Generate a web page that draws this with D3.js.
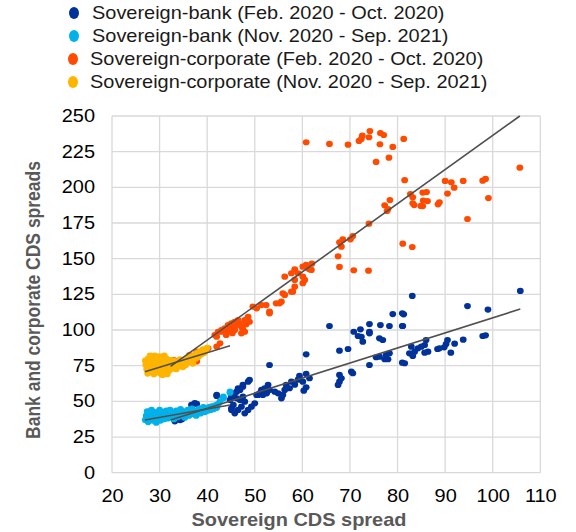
<!DOCTYPE html>
<html>
<head>
<meta charset="utf-8">
<script src="https://cdn.jsdelivr.net/npm/d3@7"></script>
<style>
  body { margin: 0; background: #fff; }
  text { font-family: "Liberation Sans", Arial, sans-serif; }
</style>
</head>
<body>
<svg id="chart" width="576" height="532"></svg>
<script>
// Legend labels and series colours
var seriesNames = [
  'Sovereign-bank (Feb. 2020 - Oct. 2020)',
  'Sovereign-bank (Nov. 2020 - Sep. 2021)',
  'Sovereign-corporate (Feb. 2020 - Oct. 2020)',
  'Sovereign-corporate (Nov. 2020 - Sep. 2021)'
];
var seriesColors = ['#003299', '#00b1ea', '#ff4b00', '#ffb400'];

var xTickValues = [20, 30, 40, 50, 60, 70, 80, 90, 100, 110];
var yTickValues = [0, 25, 50, 75, 100, 125, 150, 175, 200, 225, 250];

// [sovereign CDS, bank/corporate CDS]
var bankEarly = [
  [33.6,38.1],[34.3,36.9],[33.2,36.0],[34.7,37.5],[37.8,48.2],[36.7,47.5],[37.4,48.8],[42.0,53.8],[42.0,54.5],
  [48.9,65.0],[47.5,61.5],[46.5,59.2],[45.8,55.7],[45.1,53.3],[46.2,52.1],[46.9,51.0],[47.5,53.3],[47.9,49.8],
  [47.2,46.3],[46.5,44.0],[45.8,41.6],[45.1,44.0],[47.9,41.6],[48.6,44.0],[49.3,46.3],[50.0,48.6],[50.7,54.5],
  [51.4,58.0],[48.6,63.8],[47.5,60.3],[46.9,58.0],[46.2,56.8],[45.5,53.3],[44.8,51.0],[45.5,47.5],[45.1,45.1],
  [65.7,102.8],[53.1,75.5],[60.8,83.0],[67.8,85.5],[69.6,86.7],[70.8,98.8],[72.2,100.5],[74.1,104.2],[76.4,103.5],
  [78.3,102.8],[79.0,111.2],[81.0,111.7],[81.0,102.8],[71.7,95.8],[72.4,95.3],[74.1,98.8],[74.1,97.7],[72.7,91.8],
  [76.2,94.2],[76.9,93.0],[74.1,75.5],[75.5,80.9],[76.2,81.3],[77.6,82.5],[78.3,83.7],[77.3,79.5],[78.0,79.5],
  [81.0,77.1],[70.3,70.8],[70.6,69.7],[67.8,68.5],[68.2,66.2],[67.8,63.8],[67.5,61.5],
  [60.8,69.2],[61.5,66.2],[59.4,67.8],[60.1,63.8],[60.8,59.9],[60.3,57.5],[59.1,65.2],[58.4,61.7],[57.7,63.8],
  [57.3,59.2],[56.6,61.5],[56.3,58.0],[55.9,54.5],[55.6,52.1],[54.9,55.6],[54.2,56.8],[53.1,58.0],[52.8,61.5],
  [52.1,59.2],[52.5,55.6],[51.7,54.5],[51.0,55.6],[50.4,54.5],
  [83.1,123.9],[105.8,127.4],[81.3,111.0],[81.1,102.8],[94.7,116.8],[99.0,114.3],[97.9,95.8],[98.5,96.3],
  [93.8,93.2],[92.0,90.4],[90.5,93.0],[90.2,90.2],[89.8,87.9],[88.4,86.7],[88.8,87.2],[91.2,84.1],[86.0,93.0],
  [85.7,89.5],[85.0,88.3],[86.4,84.8],[85.7,84.1],[84.3,87.2],[83.6,84.8],[83.2,81.8],[82.9,88.3],[82.5,83.7],
  [81.5,76.7]
];

var bankLate = [
  [27.0,37.0],[27.2,40.0],[27.4,43.0],[27.6,35.5],[27.9,38.5],[28.1,41.5],[28.3,44.0],[28.6,36.5],[28.8,39.5],
  [29.0,42.5],[29.3,35.0],[29.5,38.0],[29.7,41.0],[30.0,44.0],[30.2,36.5],[30.4,39.5],[30.7,42.5],[30.9,37.5],
  [31.2,40.5],[31.4,43.5],[31.7,38.0],[31.9,41.0],[32.2,44.0],[32.4,39.0],[32.7,42.0],[33.0,37.5],[33.2,40.5],
  [33.5,43.5],[33.8,39.0],[34.1,42.0],[34.4,44.5],[34.7,40.0],[35.0,43.0],[35.3,38.5],[35.6,41.5],[35.9,44.0],
  [36.2,40.0],[36.5,42.5],[36.8,45.0],[37.1,41.0],[37.4,43.5],[37.7,40.0],[38.0,42.5],[38.3,45.0],[38.6,41.5],
  [38.9,44.0],[39.2,46.0],[39.5,42.5],[39.8,45.0],[40.1,43.5],[40.4,46.0],[40.7,44.0],[41.0,46.5],[41.3,44.5],
  [41.6,47.0],[42.0,45.5],[42.3,48.0],[42.0,47.5],[43.4,52.1],[44.8,56.1],[43.4,53.3],[44.8,56.8],[42.7,50.0]
];

var corpEarly = [
  [60.8,231.6],[65.7,230.4],[69.6,229.9],[71.9,232.5],[72.4,233.9],[72.6,236.2],[74.0,235.1],[74.2,239.5],
  [76.4,238.1],[77.1,236.7],[76.3,230.2],[79.0,228.3],[81.3,233.9],[75.5,217.8],[78.2,220.8],[105.7,213.8],
  [81.5,205.0],[90.0,204.5],[91.3,203.5],[91.9,199.8],[93.8,204.5],[97.9,204.7],[98.5,205.9],[90.5,195.6],
  [99.1,192.5],[94.7,177.8],[82.7,195.3],[83.2,193.0],[85.3,196.3],[86.1,196.7],[85.4,190.7],[86.3,190.4],
  [83.2,188.8],[83.5,187.6],[85.3,186.9],[88.5,188.1],[88.8,189.5],[84.9,187.0],[77.3,187.4],[78.4,191.1],
  [77.8,183.4],[78.0,184.8],[74.0,174.5],[81.1,160.5],[83.1,158.2],[70.6,165.9],[70.1,163.6],[68.5,163.6],
  [67.8,161.5],[68.2,158.4],[67.5,151.7],[67.8,144.2],[70.8,141.9],[73.9,141.6],
  [60.8,145.6],[60.1,144.4],[61.5,142.6],[58.4,142.6],[57.7,139.8],[56.3,137.4],[60.1,137.4],[61.2,143.3],
  [61.9,142.1],[62.0,146.5],[59.1,139.8],[58.4,135.1],[60.5,135.1],[60.1,132.8],[58.4,130.4],[57.7,126.9],
  [56.3,124.6],[55.9,125.7],[55.6,119.9],[54.5,118.7],[53.1,112.9],[52.4,117.5],[51.4,117.5],[50.4,115.2],
  [49.6,116.4],[48.6,109.3],[48.9,105.8],[47.9,107.0],[46.5,107.0],[45.8,105.8],[45.1,104.7],[44.4,103.5],
  [43.7,101.2],[43.0,100.0],[42.3,98.8],[47.2,102.3],[47.2,97.7],[47.9,98.8],[45.8,100.0],[44.4,98.8],
  [46.0,103.0],[44.9,101.5],[46.8,104.5],[43.5,99.5],[48.2,104.0],[47.5,100.5],[45.3,97.8],[44.0,96.5],
  [42.0,88.3],[42.7,90.7],[42.0,95.3],[53.1,111.7],[55.2,118.7],[58.0,126.9],[41.6,96.5],[43.0,98.8],
  [40.2,87.2],[37.8,84.8],
  [32.0,77.0],[32.8,76.0],[33.5,78.0],[34.2,77.0],[34.8,79.0],[35.5,78.0],[36.0,80.0],[36.8,79.0],
  [37.5,81.0],[33.0,79.0],[34.0,75.5],[35.0,76.0],[37.8,78.0],[36.3,82.5]
];

var corpLate = [
  [27.0,78.5],[27.1,75.5],[27.3,72.5],[27.6,80.0],[27.8,77.0],[28.0,74.0],[28.2,71.0],[28.5,79.0],[28.7,76.0],
  [28.9,73.0],[29.1,70.0],[29.4,80.5],[29.6,77.5],[29.8,74.5],[30.0,71.5],[30.2,69.5],[30.5,79.0],[30.7,76.0],
  [30.9,73.0],[31.1,70.5],[31.4,80.0],[31.6,77.0],[31.8,74.0],[32.0,71.5],[32.3,79.0],[32.5,76.0],[32.7,73.0],
  [33.0,78.5],[33.2,75.0],[33.5,72.5],[33.8,77.0],[34.0,74.5],[34.3,79.5],[34.6,76.5],[34.9,74.0],[35.2,78.0],
  [35.5,75.5],[35.8,80.0],[36.1,77.5],[36.4,81.5],[36.7,79.0],[37.0,76.5],[37.3,82.5],[37.6,80.0],[37.9,84.0],
  [38.2,81.5],[38.5,85.0],[38.8,83.0],[39.1,86.5],[39.4,84.0],[39.7,86.0],[40.0,87.5],[28.0,82.0],[29.0,82.0],
  [30.0,81.5],[31.0,82.0],[27.5,69.5],[28.8,69.0],[30.6,68.5],[31.6,69.0]
];

// linear trend lines, start and end points in data units
var trendBankEarly = [[32.3, 37.0], [105.8, 114.7]];
var trendBankLate  = [[26.9, 36.9], [44.8, 47.5]];
var trendCorpEarly = [[32.3, 74.5], [105.7, 250.0]];
var trendCorpLate  = [[26.9, 70.8], [44.8, 89.0]];

var allSeries = [bankEarly, bankLate, corpEarly, corpLate];
var allTrends = [trendBankEarly, trendBankLate, trendCorpEarly, trendCorpLate];

// the original's text is a little wider than Arial
var stretch = 'scale(1.14,1)';

var svg = d3.select('#chart');
var plot = { left: 112, right: 540.3, top: 116, bottom: 472.7 };

var xScale = d3.scaleLinear().domain([20, 110]).range([plot.left, plot.right]);
var yScale = d3.scaleLinear().domain([0, 250]).range([plot.bottom, plot.top]);

// grid
var grid = svg.append('g');
grid.selectAll('line.v').data(xTickValues).enter().append('line')
    .attr('x1', function (d) { return xScale(d); })
    .attr('x2', function (d) { return xScale(d); })
    .attr('y1', plot.top).attr('y2', plot.bottom)
    .attr('stroke', '#d9d9d9').attr('stroke-width', 1.3);
grid.selectAll('line.h').data(yTickValues).enter().append('line')
    .attr('y1', function (d) { return yScale(d); })
    .attr('y2', function (d) { return yScale(d); })
    .attr('x1', plot.left).attr('x2', plot.right)
    .attr('stroke', '#d9d9d9').attr('stroke-width', 1.3);

// axes (labels only; the grid draws the frame)
var xAxis = d3.axisBottom(xScale).tickValues(xTickValues).tickSize(0).tickPadding(17);
var yAxis = d3.axisLeft(yScale).tickValues(yTickValues).tickSize(0).tickPadding(17);

var xAxisG = svg.append('g').attr('transform', 'translate(0,' + plot.bottom + ')').call(xAxis);
var yAxisG = svg.append('g').attr('transform', 'translate(' + plot.left + ',0)').call(yAxis);
[xAxisG, yAxisG].forEach(function (g) {
  g.select('.domain').remove();
  g.selectAll('text')
      .attr('font-family', '"Liberation Sans", Arial, sans-serif')
      .attr('font-size', 17.5)
      .attr('fill', '#000');
});
xAxisG.selectAll('text').attr('transform', stretch);
yAxisG.selectAll('text').attr('x', 0).attr('transform', 'translate(-17,0) ' + stretch);

// points
var marks = svg.append('g');
allSeries.forEach(function (series, i) {
  marks.append('g').selectAll('ellipse').data(series).enter().append('ellipse')
      .attr('cx', function (d) { return xScale(d[0]); })
      .attr('cy', function (d) { return yScale(d[1]); })
      .attr('rx', 3.4)
      .attr('ry', 3.1)
      .attr('fill', seriesColors[i]);
});

// trend lines
var line = d3.line()
    .x(function (d) { return xScale(d[0]); })
    .y(function (d) { return yScale(d[1]); });
svg.append('g').selectAll('path').data(allTrends).enter().append('path')
    .attr('d', line)
    .attr('fill', 'none')
    .attr('stroke', '#505050')
    .attr('stroke-width', 1.6);

// axis titles
svg.append('text')
    .attr('transform', 'translate(299,526) ' + stretch)
    .attr('text-anchor', 'middle')
    .attr('font-size', 17.5).attr('font-weight', 'bold')
    .attr('fill', '#595959')
    .text('Sovereign CDS spread');

svg.append('text')
    .attr('transform', 'translate(40,300) ' + stretch + ' rotate(-90)')
    .attr('text-anchor', 'middle')
    .attr('font-size', 17.5).attr('font-weight', 'bold')
    .attr('fill', '#595959')
    .text('Bank and corporate CDS spreads');

// legend
var legend = svg.append('g').selectAll('g').data(seriesNames).enter().append('g')
    .attr('transform', function (d, i) { return 'translate(0,' + (13 + i * 23) + ')'; });
legend.append('ellipse')
    .attr('cx', function (d, i) { return i < 2 ? 74 : 73; })
    .attr('cy', 0)
    .attr('rx', 5).attr('ry', 6)
    .attr('fill', function (d, i) { return seriesColors[i]; });
legend.append('text')
    .attr('transform', function (d, i) { return 'translate(' + (i < 2 ? 92 : 90) + ',0) ' + stretch; })
    .attr('dy', '0.35em')
    .attr('font-size', 17.5)
    .attr('fill', '#1a1a1a')
    .text(function (d) { return d; });
</script>
</body>
</html>
